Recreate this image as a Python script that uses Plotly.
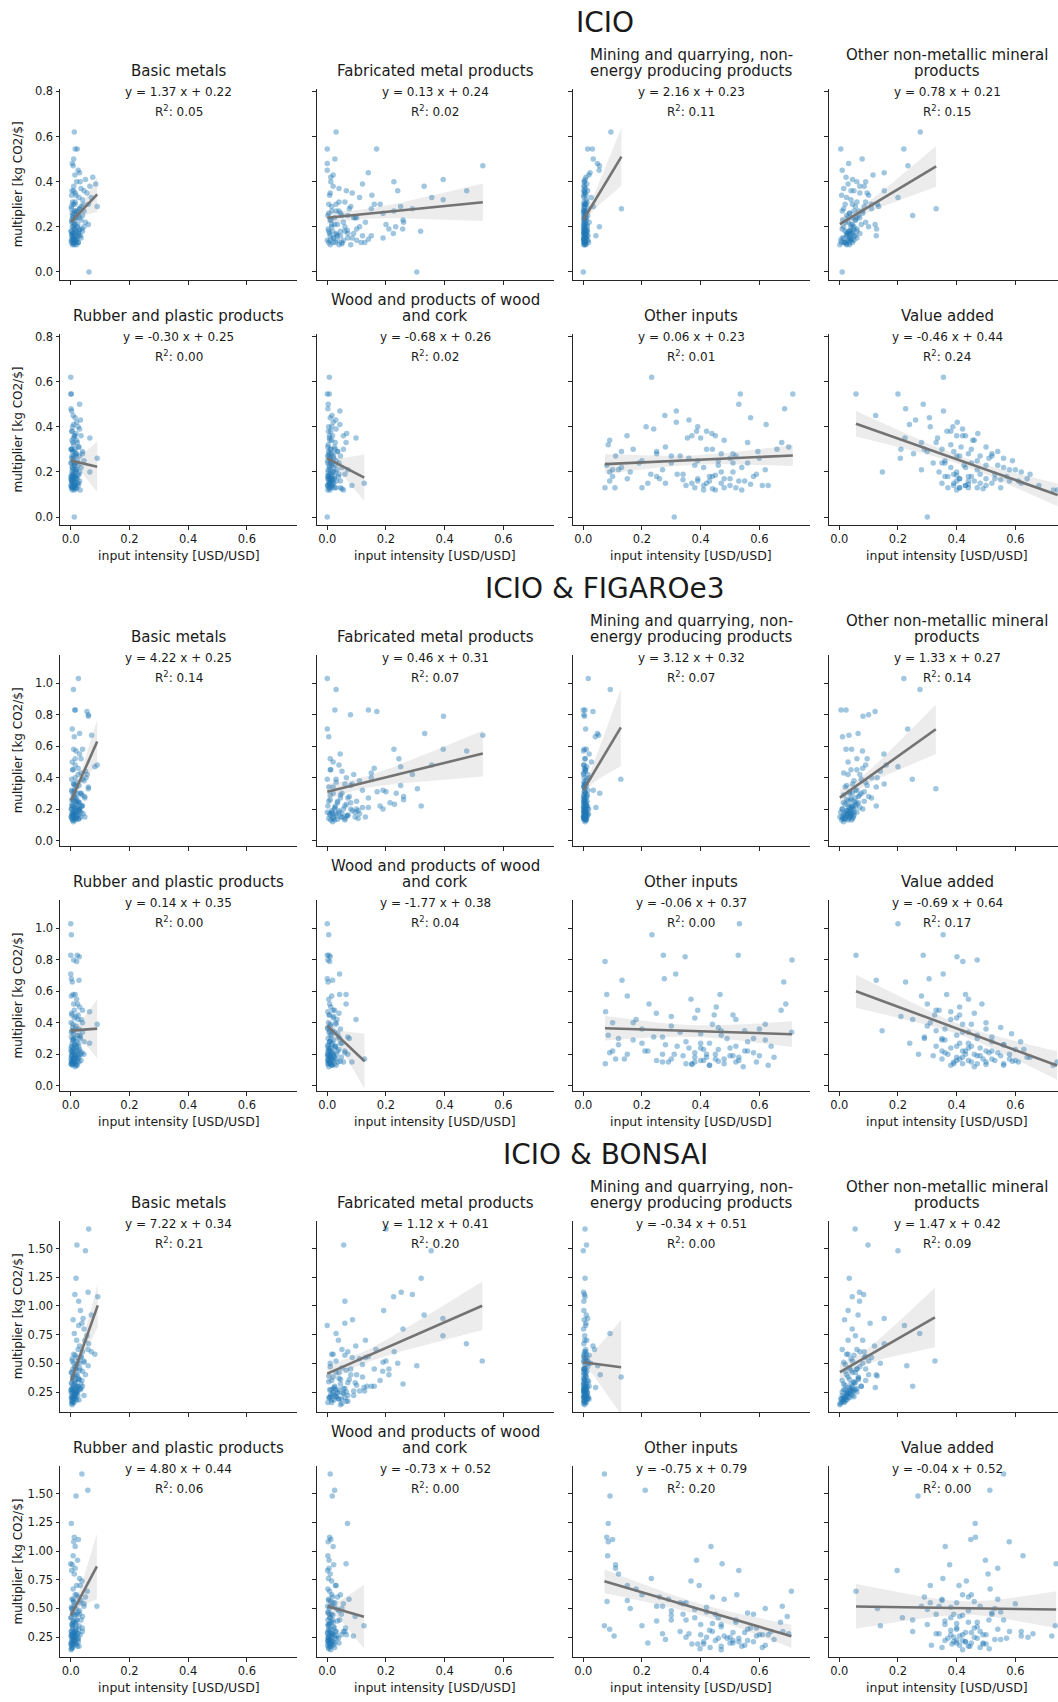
import numpy as np
import plotly.graph_objects as go

# ------------------------------------------------------------------ data
section_titles = ["ICIO", "ICIO & FIGAROe3", "ICIO & BONSAI"]
panel_titles = [
    ["Basic metals"],
    ["Fabricated metal products"],
    ["Mining and quarrying, non-", "energy producing products"],
    ["Other non-metallic mineral", "products"],
    ["Rubber and plastic products"],
    ["Wood and products of wood", "and cork"],
    ["Other inputs"],
    ["Value added"],
]
x_label = "input intensity [USD/USD]"
y_label = "multiplier [kg CO2/$]"
x_tick_values = [0.0, 0.2, 0.4, 0.6]
x_tick_labels = ["0.0", "0.2", "0.4", "0.6"]

icio_y_ticks = [0.0, 0.2, 0.4, 0.6, 0.8]
icio_y_tick_labels = ["0.0", "0.2", "0.4", "0.6", "0.8"]
figaro_y_ticks = [0.0, 0.2, 0.4, 0.6, 0.8, 1.0]
figaro_y_tick_labels = ["0.0", "0.2", "0.4", "0.6", "0.8", "1.0"]
bonsai_y_ticks = [0.25, 0.50, 0.75, 1.00, 1.25, 1.50]
bonsai_y_tick_labels = ["0.25", "0.50", "0.75", "1.00", "1.25", "1.50"]

# regression results (slope, intercept, R^2) per panel
icio_slope = [1.37, 0.13, 2.16, 0.78, -0.30, -0.68, 0.06, -0.46]
icio_intercept = [0.22, 0.24, 0.23, 0.21, 0.25, 0.26, 0.23, 0.44]
icio_r2 = [0.05, 0.02, 0.11, 0.15, 0.00, 0.02, 0.01, 0.24]
figaro_slope = [4.22, 0.46, 3.12, 1.33, 0.14, -1.77, -0.06, -0.69]
figaro_intercept = [0.25, 0.31, 0.32, 0.27, 0.35, 0.38, 0.37, 0.64]
figaro_r2 = [0.14, 0.07, 0.07, 0.14, 0.00, 0.04, 0.00, 0.17]
bonsai_slope = [7.22, 1.12, -0.34, 1.47, 4.80, -0.73, -0.75, -0.04]
bonsai_intercept = [0.34, 0.41, 0.51, 0.42, 0.44, 0.52, 0.79, 0.52]
bonsai_r2 = [0.21, 0.20, 0.00, 0.09, 0.06, 0.00, 0.20, 0.00]

# ---- ICIO
icio_multiplier = [
    0.62, 0.545, 0.545, 0.50, 0.48, 0.47, 0.45, 0.44, 0.42, 0.41,
    0.40, 0.39, 0.38, 0.37, 0.36, 0.36, 0.35, 0.34, 0.33, 0.32,
    0.31, 0.30, 0.30, 0.29, 0.29, 0.28, 0.27, 0.27, 0.26, 0.26,
    0.25, 0.25, 0.24, 0.24, 0.23, 0.23, 0.22, 0.22, 0.21, 0.21,
    0.20, 0.20, 0.19, 0.19, 0.18, 0.18, 0.18, 0.17, 0.17, 0.17,
    0.16, 0.16, 0.16, 0.15, 0.15, 0.15, 0.14, 0.14, 0.14, 0.13,
    0.13, 0.13, 0.13, 0.12, 0.12, 0.12, 0.20, 0.28, 0.35, 0.00,
    0.38, 0.36, 0.34, 0.33, 0.31, 0.30, 0.29, 0.28, 0.27, 0.26,
    0.25, 0.24, 0.23, 0.22, 0.21, 0.20, 0.19, 0.19, 0.18, 0.18,
    0.17, 0.17, 0.16, 0.16, 0.15, 0.15, 0.14, 0.14, 0.13, 0.13,
    0.30, 0.27, 0.24, 0.21, 0.185, 0.165, 0.145, 0.125, 0.40, 0.43]
icio_basic_metals = [
    0.012, 0.015, 0.022, 0.010, 0.005, 0.008, 0.025, 0.030, 0.075, 0.050,
    0.020, 0.085, 0.065, 0.035, 0.010, 0.045, 0.055, 0.003, 0.070, 0.040,
    0.015, 0.008, 0.060, 0.002, 0.090, 0.030, 0.012, 0.045, 0.005, 0.020,
    0.025, 0.040, 0.010, 0.018, 0.003, 0.035, 0.050, 0.008, 0.060, 0.015,
    0.022, 0.005, 0.012, 0.030, 0.002, 0.018, 0.040, 0.008, 0.025, 0.010,
    0.015, 0.003, 0.028, 0.006, 0.012, 0.035, 0.004, 0.020, 0.009, 0.016,
    0.002, 0.010, 0.025, 0.006, 0.013, 0.020, 0.045, 0.030, 0.015, 0.062,
    0.010, 0.004, 0.018, 0.028, 0.006, 0.014, 0.035, 0.002, 0.022, 0.011,
    0.007, 0.030, 0.016, 0.003, 0.024, 0.009, 0.013, 0.038, 0.001, 0.019,
    0.027, 0.005, 0.012, 0.033, 0.008, 0.021, 0.002, 0.015, 0.010, 0.026,
    0.042, 0.018, 0.006, 0.012, 0.029, 0.004, 0.017, 0.008, 0.032, 0.014]
icio_fabricated_metal = [
    0.030, 0.000, 0.168, 0.026, 0.000, 0.530, 0.000, 0.140, 0.012, 0.395,
    0.227, 0.120, 0.330, 0.040, 0.240, 0.475, 0.010, 0.152, 0.356, 0.395,
    0.060, 0.005, 0.030, 0.250, 0.080, 0.290, 0.015, 0.227, 0.190, 0.045,
    0.002, 0.070, 0.025, 0.100, 0.258, 0.010, 0.260, 0.055, 0.200, 0.035,
    0.233, 0.015, 0.210, 0.257, 0.005, 0.318, 0.060, 0.225, 0.030, 0.090,
    0.010, 0.045, 0.120, 0.190, 0.020, 0.070, 0.000, 0.035, 0.100, 0.128,
    0.005, 0.050, 0.020, 0.080, 0.010, 0.040, 0.110, 0.150, 0.085, 0.305,
    0.020, 0.065, 0.008, 0.110, 0.040, 0.160, 0.015, 0.075, 0.030, 0.005,
    0.050, 0.090, 0.012, 0.130, 0.025, 0.060, 0.003, 0.100, 0.045, 0.018,
    0.070, 0.008, 0.035, 0.150, 0.022, 0.085, 0.010, 0.055, 0.028, 0.115,
    0.180, 0.040, 0.095, 0.015, 0.068, 0.032, 0.140, 0.050, 0.012, 0.020]
icio_mining = [
    0.094, 0.015, 0.031, 0.034, 0.048, 0.055, 0.054, 0.023, 0.009, 0.006,
    0.003, 0.012, 0.002, 0.008, 0.004, 0.015, 0.006, 0.001, 0.027, 0.010,
    0.003, 0.007, 0.002, 0.034, 0.005, 0.130, 0.004, 0.012, 0.001, 0.008,
    0.003, 0.015, 0.006, 0.001, 0.010, 0.004, 0.020, 0.002, 0.007, 0.012,
    0.001, 0.005, 0.009, 0.003, 0.014, 0.002, 0.006, 0.011, 0.004, 0.001,
    0.043, 0.003, 0.016, 0.002, 0.006, 0.010, 0.004, 0.001, 0.012, 0.005,
    0.003, 0.018, 0.007, 0.002, 0.009, 0.004, 0.055, 0.002, 0.005, 0.000,
    0.004, 0.001, 0.009, 0.002, 0.013, 0.006, 0.003, 0.017, 0.001, 0.008,
    0.005, 0.011, 0.002, 0.007, 0.004, 0.014, 0.001, 0.006, 0.010, 0.003,
    0.008, 0.002, 0.012, 0.005, 0.001, 0.009, 0.004, 0.016, 0.002, 0.007,
    0.011, 0.003, 0.006, 0.001, 0.013, 0.005, 0.002, 0.008, 0.004, 0.019]
icio_non_metallic = [
    0.276, 0.005, 0.220, 0.078, 0.032, 0.234, 0.010, 0.153, 0.023, 0.045,
    0.060, 0.030, 0.085, 0.015, 0.153, 0.050, 0.070, 0.008, 0.200, 0.040,
    0.090, 0.020, 0.130, 0.134, 0.055, 0.330, 0.010, 0.065, 0.035, 0.080,
    0.250, 0.025, 0.045, 0.070, 0.012, 0.055, 0.030, 0.090, 0.122, 0.040,
    0.050, 0.015, 0.127, 0.060, 0.035, 0.045, 0.020, 0.070, 0.040, 0.030,
    0.126, 0.050, 0.025, 0.035, 0.010, 0.060, 0.040, 0.005, 0.030, 0.020,
    0.008, 0.045, 0.015, 0.035, 0.002, 0.025, 0.100, 0.110, 0.095, 0.010,
    0.070, 0.040, 0.100, 0.025, 0.060, 0.045, 0.085, 0.015, 0.050, 0.035,
    0.065, 0.030, 0.055, 0.020, 0.075, 0.040, 0.010, 0.050, 0.030, 0.060,
    0.045, 0.025, 0.035, 0.055, 0.015, 0.040, 0.030, 0.050, 0.020, 0.035,
    0.110, 0.080, 0.060, 0.045, 0.038, 0.028, 0.042, 0.025, 0.090, 0.115]
icio_rubber_plastic = [
    0.000, 0.000, 0.002, 0.030, 0.001, 0.003, 0.008, 0.015, 0.020, 0.010,
    0.025, 0.030, 0.005, 0.018, 0.012, 0.035, 0.065, 0.004, 0.022, 0.010,
    0.028, 0.002, 0.015, 0.040, 0.006, 0.020, 0.011, 0.030, 0.090, 0.003,
    0.045, 0.008, 0.018, 0.001, 0.025, 0.012, 0.035, 0.005, 0.015, 0.020,
    0.065, 0.004, 0.010, 0.028, 0.002, 0.016, 0.007, 0.020, 0.013, 0.001,
    0.009, 0.030, 0.003, 0.014, 0.006, 0.022, 0.001, 0.011, 0.025, 0.004,
    0.008, 0.018, 0.002, 0.012, 0.005, 0.032, 0.015, 0.040, 0.010, 0.012,
    0.003, 0.014, 0.020, 0.007, 0.026, 0.001, 0.011, 0.017, 0.004, 0.009,
    0.023, 0.002, 0.013, 0.006, 0.019, 0.030, 0.005, 0.010, 0.001, 0.015,
    0.008, 0.021, 0.003, 0.012, 0.027, 0.006, 0.016, 0.002, 0.009, 0.014,
    0.004, 0.018, 0.011, 0.007, 0.024, 0.002, 0.013, 0.020, 0.006, 0.033]
icio_wood = [
    0.007, 0.000, 0.007, 0.003, 0.002, 0.043, 0.016, 0.010, 0.020, 0.043,
    0.005, 0.030, 0.012, 0.066, 0.055, 0.008, 0.098, 0.015, 0.064, 0.003,
    0.025, 0.055, 0.010, 0.004, 0.035, 0.018, 0.001, 0.045, 0.008, 0.022,
    0.012, 0.030, 0.002, 0.040, 0.015, 0.006, 0.050, 0.020, 0.070, 0.010,
    0.003, 0.028, 0.060, 0.009, 0.014, 0.038, 0.002, 0.024, 0.006, 0.017,
    0.011, 0.045, 0.004, 0.019, 0.126, 0.008, 0.001, 0.084, 0.013, 0.025,
    0.005, 0.016, 0.030, 0.002, 0.009, 0.055, 0.020, 0.012, 0.007, 0.000,
    0.004, 0.018, 0.009, 0.027, 0.002, 0.013, 0.035, 0.006, 0.021, 0.011,
    0.001, 0.016, 0.028, 0.008, 0.003, 0.019, 0.012, 0.040, 0.005, 0.024,
    0.010, 0.002, 0.031, 0.014, 0.007, 0.022, 0.001, 0.017, 0.009, 0.045,
    0.026, 0.005, 0.012, 0.033, 0.003, 0.018, 0.008, 0.050, 0.015, 0.029]
icio_other_inputs = [
    0.233, 0.535, 0.714, 0.530, 0.686, 0.317, 0.278, 0.570, 0.317, 0.623,
    0.214, 0.240, 0.386, 0.438, 0.149, 0.450, 0.355, 0.480, 0.676, 0.085,
    0.700, 0.170, 0.420, 0.250, 0.595, 0.470, 0.520, 0.110, 0.360, 0.500,
    0.200, 0.390, 0.560, 0.300, 0.080, 0.460, 0.130, 0.410, 0.270, 0.620,
    0.090, 0.510, 0.340, 0.230, 0.440, 0.580, 0.100, 0.390, 0.480, 0.260,
    0.430, 0.530, 0.090, 0.370, 0.470, 0.220, 0.410, 0.500, 0.630, 0.380,
    0.074, 0.108, 0.520, 0.410, 0.450, 0.540, 0.160, 0.250, 0.400, 0.310,
    0.420, 0.370, 0.090, 0.560, 0.280, 0.440, 0.130, 0.510, 0.330, 0.600,
    0.460, 0.190, 0.380, 0.540, 0.100, 0.470, 0.320, 0.590, 0.430, 0.250,
    0.500, 0.150, 0.390, 0.550, 0.280, 0.420, 0.610, 0.350, 0.480, 0.200,
    0.660, 0.300, 0.510, 0.120, 0.450, 0.340, 0.570, 0.440, 0.390, 0.360]
icio_value_added = [
    0.355, 0.057, 0.200, 0.286, 0.226, 0.355, 0.124, 0.307, 0.402, 0.239,
    0.387, 0.420, 0.367, 0.472, 0.400, 0.430, 0.335, 0.455, 0.280, 0.380,
    0.415, 0.210, 0.350, 0.540, 0.300, 0.440, 0.480, 0.400, 0.208, 0.510,
    0.360, 0.590, 0.450, 0.320, 0.425, 0.500, 0.380, 0.560, 0.470, 0.280,
    0.340, 0.620, 0.390, 0.530, 0.450, 0.360, 0.570, 0.410, 0.640, 0.500,
    0.400, 0.440, 0.610, 0.350, 0.480, 0.520, 0.390, 0.680, 0.430, 0.370,
    0.410, 0.440, 0.550, 0.744, 0.730, 0.400, 0.147, 0.253, 0.224, 0.300,
    0.380, 0.420, 0.460, 0.330, 0.500, 0.450, 0.390, 0.520, 0.410, 0.560,
    0.470, 0.350, 0.540, 0.430, 0.600, 0.400, 0.480, 0.650, 0.370, 0.440,
    0.530, 0.410, 0.580, 0.460, 0.390, 0.620, 0.430, 0.500, 0.470, 0.410,
    0.290, 0.520, 0.360, 0.580, 0.400, 0.550, 0.440, 0.490, 0.310, 0.260]

# ---- ICIO & FIGAROe3
figaro_multiplier = [
    1.03, 0.96, 0.83, 0.83, 0.82, 0.80, 0.79, 0.71, 0.68, 0.67,
    0.66, 0.58, 0.58, 0.57, 0.55, 0.52, 0.50, 0.48, 0.47, 0.46,
    0.45, 0.43, 0.42, 0.40, 0.39, 0.38, 0.37, 0.36, 0.35, 0.34,
    0.33, 0.32, 0.31, 0.30, 0.30, 0.29, 0.28, 0.27, 0.26, 0.25,
    0.25, 0.24, 0.23, 0.22, 0.22, 0.21, 0.21, 0.20, 0.20, 0.19,
    0.19, 0.18, 0.18, 0.17, 0.17, 0.16, 0.16, 0.15, 0.15, 0.15,
    0.14, 0.14, 0.13, 0.13, 0.12, 0.20, 0.27, 0.35, 0.44, 0.22,
    0.48, 0.45, 0.42, 0.39, 0.36, 0.34, 0.32, 0.30, 0.28, 0.27,
    0.26, 0.25, 0.24, 0.23, 0.22, 0.21, 0.20, 0.20, 0.19, 0.18,
    0.18, 0.17, 0.17, 0.16, 0.16, 0.15, 0.15, 0.14, 0.14, 0.13,
    0.31, 0.29, 0.24, 0.22, 0.19, 0.17, 0.155, 0.135, 0.40, 0.52]
figaro_basic_metals = [
    0.026, 0.009, 0.013, 0.016, 0.055, 0.060, 0.060, 0.005, 0.030, 0.071,
    0.012, 0.010, 0.040, 0.018, 0.030, 0.015, 0.005, 0.090, 0.082, 0.025,
    0.008, 0.035, 0.056, 0.015, 0.003, 0.045, 0.020, 0.010, 0.028, 0.060,
    0.060, 0.012, 0.004, 0.022, 0.035, 0.008, 0.047, 0.015, 0.003, 0.025,
    0.010, 0.030, 0.018, 0.005, 0.040, 0.012, 0.022, 0.002, 0.028, 0.015,
    0.008, 0.020, 0.035, 0.004, 0.013, 0.025, 0.006, 0.048, 0.010, 0.018,
    0.003, 0.012, 0.007, 0.016, 0.009, 0.030, 0.020, 0.014, 0.050, 0.038,
    0.015, 0.006, 0.025, 0.040, 0.010, 0.020, 0.003, 0.032, 0.012, 0.048,
    0.008, 0.018, 0.027, 0.004, 0.036, 0.014, 0.022, 0.002, 0.030, 0.009,
    0.016, 0.042, 0.005, 0.024, 0.011, 0.033, 0.001, 0.019, 0.028, 0.007,
    0.013, 0.038, 0.021, 0.006, 0.029, 0.017, 0.003, 0.026, 0.052, 0.035]
figaro_fabricated_metal = [
    0.000, 0.030, 0.026, 0.140, 0.169, 0.079, 0.396, 0.000, 0.332, 0.530,
    0.005, 0.227, 0.395, 0.475, 0.044, 0.244, 0.020, 0.356, 0.250, 0.160,
    0.010, 0.150, 0.290, 0.065, 0.000, 0.110, 0.030, 0.085, 0.250, 0.020,
    0.307, 0.190, 0.200, 0.235, 0.050, 0.010, 0.260, 0.070, 0.260, 0.035,
    0.005, 0.214, 0.229, 0.320, 0.060, 0.025, 0.120, 0.190, 0.080, 0.040,
    0.015, 0.095, 0.000, 0.050, 0.030, 0.010, 0.070, 0.130, 0.045, 0.020,
    0.105, 0.005, 0.060, 0.025, 0.018, 0.100, 0.140, 0.080, 0.050, 0.180,
    0.040, 0.012, 0.090, 0.030, 0.060, 0.005, 0.120, 0.020, 0.075, 0.045,
    0.010, 0.100, 0.035, 0.065, 0.002, 0.140, 0.025, 0.055, 0.085, 0.015,
    0.040, 0.110, 0.008, 0.070, 0.030, 0.050, 0.095, 0.020, 0.060, 0.012,
    0.170, 0.045, 0.080, 0.028, 0.105, 0.018, 0.065, 0.035, 0.150, 0.010]
figaro_mining = [
    0.017, 0.092, 0.000, 0.006, 0.033, 0.002, 0.004, 0.008, 0.048, 0.052,
    0.041, 0.003, 0.010, 0.001, 0.020, 0.006, 0.028, 0.002, 0.012, 0.004,
    0.007, 0.001, 0.015, 0.003, 0.128, 0.009, 0.002, 0.005, 0.011, 0.001,
    0.006, 0.034, 0.003, 0.056, 0.008, 0.002, 0.012, 0.004, 0.001, 0.007,
    0.003, 0.010, 0.005, 0.001, 0.014, 0.002, 0.043, 0.006, 0.009, 0.003,
    0.001, 0.008, 0.004, 0.012, 0.002, 0.006, 0.015, 0.003, 0.010, 0.001,
    0.005, 0.002, 0.009, 0.003, 0.006, 0.018, 0.004, 0.002, 0.007, 0.011,
    0.002, 0.008, 0.001, 0.012, 0.005, 0.003, 0.016, 0.007, 0.001, 0.010,
    0.004, 0.013, 0.002, 0.006, 0.009, 0.001, 0.015, 0.003, 0.007, 0.011,
    0.002, 0.005, 0.018, 0.004, 0.008, 0.001, 0.012, 0.006, 0.003, 0.009,
    0.005, 0.014, 0.002, 0.010, 0.004, 0.007, 0.001, 0.011, 0.020, 0.006]
figaro_non_metallic = [
    0.220, 0.275, 0.006, 0.023, 0.122, 0.100, 0.081, 0.233, 0.064, 0.033,
    0.011, 0.023, 0.042, 0.079, 0.152, 0.060, 0.030, 0.160, 0.200, 0.080,
    0.040, 0.015, 0.070, 0.129, 0.249, 0.050, 0.090, 0.153, 0.025, 0.126,
    0.329, 0.060, 0.035, 0.075, 0.045, 0.015, 0.100, 0.055, 0.040, 0.085,
    0.030, 0.065, 0.020, 0.045, 0.126, 0.035, 0.070, 0.010, 0.050, 0.040,
    0.025, 0.060, 0.005, 0.040, 0.030, 0.018, 0.050, 0.010, 0.035, 0.002,
    0.045, 0.020, 0.008, 0.030, 0.015, 0.080, 0.110, 0.095, 0.140, 0.055,
    0.090, 0.060, 0.030, 0.075, 0.045, 0.020, 0.055, 0.035, 0.065, 0.040,
    0.025, 0.050, 0.015, 0.060, 0.030, 0.045, 0.010, 0.040, 0.025, 0.050,
    0.035, 0.015, 0.045, 0.028, 0.038, 0.020, 0.048, 0.032, 0.012, 0.042,
    0.085, 0.070, 0.055, 0.040, 0.030, 0.022, 0.036, 0.018, 0.110, 0.095]
figaro_rubber_plastic = [
    0.000, 0.002, 0.000, 0.022, 0.029, 0.010, 0.020, 0.000, 0.002, 0.028,
    0.005, 0.008, 0.015, 0.002, 0.020, 0.010, 0.030, 0.040, 0.064, 0.003,
    0.025, 0.012, 0.035, 0.001, 0.090, 0.018, 0.006, 0.028, 0.004, 0.040,
    0.010, 0.022, 0.002, 0.015, 0.032, 0.007, 0.045, 0.064, 0.012, 0.003,
    0.020, 0.008, 0.030, 0.001, 0.016, 0.038, 0.005, 0.024, 0.011, 0.002,
    0.014, 0.028, 0.006, 0.018, 0.001, 0.010, 0.035, 0.004, 0.022, 0.008,
    0.012, 0.002, 0.020, 0.006, 0.015, 0.045, 0.025, 0.009, 0.018, 0.030,
    0.012, 0.004, 0.025, 0.008, 0.017, 0.002, 0.030, 0.010, 0.020, 0.005,
    0.014, 0.027, 0.001, 0.009, 0.022, 0.006, 0.016, 0.035, 0.003, 0.012,
    0.019, 0.007, 0.024, 0.002, 0.011, 0.028, 0.005, 0.015, 0.001, 0.021,
    0.033, 0.008, 0.018, 0.004, 0.026, 0.010, 0.013, 0.003, 0.040, 0.023]
figaro_wood = [
    0.000, 0.005, 0.000, 0.006, 0.010, 0.002, 0.008, 0.042, 0.000, 0.018,
    0.003, 0.042, 0.064, 0.015, 0.005, 0.064, 0.012, 0.025, 0.002, 0.040,
    0.008, 0.020, 0.098, 0.004, 0.030, 0.012, 0.001, 0.045, 0.018, 0.006,
    0.035, 0.010, 0.070, 0.003, 0.075, 0.022, 0.008, 0.050, 0.015, 0.001,
    0.028, 0.006, 0.040, 0.012, 0.002, 0.060, 0.018, 0.004, 0.032, 0.010,
    0.001, 0.025, 0.008, 0.127, 0.014, 0.003, 0.020, 0.084, 0.006, 0.036,
    0.010, 0.002, 0.030, 0.015, 0.005, 0.070, 0.045, 0.009, 0.022, 0.060,
    0.020, 0.006, 0.033, 0.011, 0.002, 0.025, 0.015, 0.042, 0.008, 0.018,
    0.003, 0.028, 0.012, 0.005, 0.036, 0.016, 0.001, 0.022, 0.010, 0.048,
    0.006, 0.019, 0.030, 0.002, 0.014, 0.055, 0.009, 0.024, 0.004, 0.017,
    0.038, 0.012, 0.026, 0.007, 0.021, 0.003, 0.044, 0.015, 0.029, 0.008]
figaro_other_inputs = [
    0.532, 0.234, 0.273, 0.528, 0.347, 0.711, 0.074, 0.315, 0.276, 0.132,
    0.683, 0.080, 0.466, 0.150, 0.367, 0.224, 0.453, 0.674, 0.076, 0.249,
    0.446, 0.380, 0.520, 0.100, 0.620, 0.300, 0.460, 0.200, 0.550, 0.710,
    0.400, 0.085, 0.270, 0.490, 0.580, 0.170, 0.350, 0.430, 0.120, 0.640,
    0.320, 0.500, 0.410, 0.220, 0.560, 0.380, 0.090, 0.450, 0.270, 0.600,
    0.340, 0.420, 0.530, 0.110, 0.480, 0.400, 0.250, 0.380, 0.520, 0.290,
    0.075, 0.370, 0.430, 0.630, 0.545, 0.150, 0.200, 0.470, 0.300, 0.550,
    0.390, 0.510, 0.180, 0.440, 0.600, 0.330, 0.470, 0.120, 0.560, 0.400,
    0.280, 0.520, 0.360, 0.460, 0.210, 0.580, 0.420, 0.310, 0.500, 0.650,
    0.380, 0.450, 0.140, 0.530, 0.410, 0.270, 0.590, 0.350, 0.480, 0.430,
    0.240, 0.620, 0.400, 0.100, 0.510, 0.300, 0.460, 0.370, 0.170, 0.690]
figaro_value_added = [
    0.200, 0.354, 0.057, 0.286, 0.401, 0.470, 0.421, 0.354, 0.306, 0.126,
    0.226, 0.366, 0.430, 0.280, 0.440, 0.486, 0.410, 0.340, 0.380, 0.460,
    0.325, 0.400, 0.250, 0.500, 0.420, 0.300, 0.550, 0.360, 0.146, 0.440,
    0.587, 0.400, 0.520, 0.290, 0.470, 0.350, 0.618, 0.410, 0.560, 0.330,
    0.450, 0.380, 0.629, 0.500, 0.420, 0.360, 0.540, 0.580, 0.430, 0.320,
    0.470, 0.400, 0.650, 0.350, 0.520, 0.440, 0.600, 0.390, 0.500, 0.742,
    0.420, 0.560, 0.729, 0.380, 0.460, 0.270, 0.240, 0.330, 0.210, 0.350,
    0.330, 0.410, 0.380, 0.450, 0.500, 0.420, 0.470, 0.350, 0.520, 0.440,
    0.560, 0.400, 0.480, 0.600, 0.430, 0.510, 0.370, 0.460, 0.550, 0.640,
    0.420, 0.490, 0.580, 0.400, 0.530, 0.450, 0.610, 0.390, 0.470, 0.560,
    0.290, 0.360, 0.440, 0.520, 0.480, 0.410, 0.590, 0.500, 0.310, 0.300]

# ---- ICIO & BONSAI
bonsai_multiplier = [
    1.67, 1.53, 1.48, 1.24, 1.12, 1.10, 1.08, 1.04, 0.96, 0.92,
    0.89, 0.88, 0.83, 0.80, 0.76, 0.74, 0.70, 0.67, 0.65, 0.62,
    0.60, 0.58, 0.57, 0.56, 0.54, 0.52, 0.51, 0.50, 0.48, 0.46,
    0.45, 0.43, 0.42, 0.40, 0.39, 0.38, 0.36, 0.35, 0.33, 0.32,
    0.31, 0.30, 0.29, 0.28, 0.27, 0.27, 0.26, 0.25, 0.25, 0.24,
    0.23, 0.22, 0.21, 0.20, 0.20, 0.19, 0.18, 0.17, 0.16, 0.15,
    0.14, 0.30, 0.35, 0.40, 0.45, 0.50, 0.55, 0.60, 0.28, 0.22,
    0.62, 0.58, 0.55, 0.52, 0.49, 0.47, 0.44, 0.42, 0.40, 0.38,
    0.36, 0.34, 0.32, 0.30, 0.29, 0.28, 0.27, 0.26, 0.25, 0.24,
    0.23, 0.22, 0.21, 0.20, 0.19, 0.18, 0.17, 0.16, 0.30, 0.26,
    0.52, 0.45, 0.37, 0.33, 0.27, 0.24, 0.21, 0.19, 0.70, 0.85]
bonsai_basic_metals = [
    0.061, 0.021, 0.050, 0.018, 0.059, 0.014, 0.092, 0.027, 0.033, 0.070,
    0.042, 0.008, 0.027, 0.045, 0.012, 0.055, 0.020, 0.061, 0.030, 0.059,
    0.070, 0.082, 0.015, 0.035, 0.005, 0.025, 0.045, 0.010, 0.059, 0.030,
    0.018, 0.040, 0.003, 0.022, 0.012, 0.006, 0.028, 0.015, 0.002, 0.035,
    0.010, 0.020, 0.005, 0.030, 0.014, 0.001, 0.024, 0.008, 0.018, 0.004,
    0.012, 0.045, 0.006, 0.015, 0.002, 0.010, 0.020, 0.004, 0.008, 0.003,
    0.005, 0.025, 0.038, 0.050, 0.015, 0.030, 0.022, 0.040, 0.035, 0.016,
    0.025, 0.010, 0.035, 0.005, 0.020, 0.014, 0.030, 0.002, 0.018, 0.008,
    0.027, 0.012, 0.004, 0.022, 0.016, 0.006, 0.032, 0.010, 0.001, 0.019,
    0.013, 0.024, 0.003, 0.009, 0.017, 0.028, 0.005, 0.011, 0.040, 0.021,
    0.045, 0.007, 0.026, 0.015, 0.002, 0.020, 0.012, 0.004, 0.048, 0.038]
bonsai_fabricated_metal = [
    0.200, 0.056, 0.354, 0.320, 0.252, 0.290, 0.226, 0.060, 0.192, 0.330,
    0.394, 0.086, 0.000, 0.258, 0.030, 0.394, 0.038, 0.474, 0.097, 0.166,
    0.228, 0.020, 0.060, 0.140, 0.110, 0.528, 0.190, 0.010, 0.305, 0.050,
    0.210, 0.189, 0.030, 0.080, 0.005, 0.120, 0.045, 0.015, 0.070, 0.258,
    0.100, 0.025, 0.125, 0.055, 0.008, 0.040, 0.127, 0.020, 0.065, 0.035,
    0.012, 0.090, 0.030, 0.060, 0.005, 0.040, 0.015, 0.070, 0.002, 0.050,
    0.045, 0.150, 0.180, 0.210, 0.160, 0.240, 0.130, 0.070, 0.020, 0.025,
    0.050, 0.015, 0.085, 0.030, 0.120, 0.010, 0.065, 0.040, 0.100, 0.020,
    0.075, 0.005, 0.045, 0.135, 0.025, 0.060, 0.012, 0.090, 0.035, 0.055,
    0.018, 0.070, 0.030, 0.008, 0.048, 0.022, 0.065, 0.015, 0.160, 0.110,
    0.200, 0.080, 0.040, 0.095, 0.028, 0.052, 0.010, 0.038, 0.130, 0.060]
bonsai_mining = [
    0.006, 0.011, 0.000, 0.006, 0.001, 0.004, 0.006, 0.002, 0.002, 0.010,
    0.015, 0.003, 0.008, 0.001, 0.091, 0.005, 0.012, 0.002, 0.033, 0.038,
    0.004, 0.010, 0.020, 0.001, 0.007, 0.015, 0.003, 0.025, 0.049, 0.006,
    0.002, 0.012, 0.001, 0.058, 0.008, 0.129, 0.004, 0.015, 0.002, 0.009,
    0.001, 0.006, 0.042, 0.003, 0.011, 0.002, 0.007, 0.014, 0.001, 0.005,
    0.009, 0.003, 0.016, 0.001, 0.006, 0.020, 0.004, 0.002, 0.010, 0.001,
    0.005, 0.012, 0.003, 0.007, 0.001, 0.018, 0.004, 0.009, 0.002, 0.011,
    0.008, 0.003, 0.012, 0.001, 0.006, 0.015, 0.004, 0.009, 0.002, 0.011,
    0.005, 0.018, 0.001, 0.007, 0.013, 0.003, 0.010, 0.006, 0.002, 0.014,
    0.004, 0.009, 0.001, 0.016, 0.005, 0.011, 0.003, 0.007, 0.020, 0.002,
    0.012, 0.006, 0.001, 0.010, 0.004, 0.008, 0.003, 0.015, 0.005, 0.009]
bonsai_non_metallic = [
    0.054, 0.098, 0.200, 0.034, 0.069, 0.083, 0.044, 0.069, 0.030, 0.064,
    0.153, 0.018, 0.222, 0.044, 0.274, 0.055, 0.030, 0.153, 0.120, 0.010,
    0.070, 0.025, 0.050, 0.090, 0.040, 0.326, 0.015, 0.080, 0.230, 0.035,
    0.060, 0.020, 0.045, 0.126, 0.129, 0.030, 0.065, 0.010, 0.050, 0.040,
    0.020, 0.250, 0.123, 0.035, 0.055, 0.015, 0.045, 0.025, 0.060, 0.030,
    0.040, 0.010, 0.050, 0.020, 0.035, 0.005, 0.025, 0.015, 0.008, 0.003,
    0.002, 0.075, 0.090, 0.100, 0.060, 0.140, 0.110, 0.085, 0.045, 0.028,
    0.060, 0.030, 0.085, 0.045, 0.020, 0.070, 0.040, 0.055, 0.025, 0.065,
    0.035, 0.050, 0.015, 0.045, 0.030, 0.060, 0.020, 0.040, 0.010, 0.035,
    0.025, 0.045, 0.015, 0.030, 0.008, 0.022, 0.012, 0.018, 0.075, 0.050,
    0.100, 0.090, 0.065, 0.055, 0.038, 0.028, 0.020, 0.014, 0.080, 0.105]
bonsai_rubber_plastic = [
    0.038, 0.058, 0.018, 0.002, 0.012, 0.026, 0.010, 0.015, 0.008, 0.023,
    0.000, 0.005, 0.003, 0.012, 0.030, 0.038, 0.020, 0.008, 0.056, 0.015,
    0.025, 0.004, 0.035, 0.010, 0.045, 0.089, 0.002, 0.018, 0.030, 0.006,
    0.012, 0.040, 0.001, 0.022, 0.008, 0.015, 0.003, 0.028, 0.039, 0.006,
    0.018, 0.002, 0.010, 0.025, 0.005, 0.032, 0.001, 0.014, 0.008, 0.020,
    0.004, 0.012, 0.026, 0.002, 0.009, 0.017, 0.001, 0.022, 0.006, 0.003,
    0.001, 0.015, 0.007, 0.019, 0.030, 0.004, 0.011, 0.050, 0.013, 0.009,
    0.020, 0.008, 0.030, 0.012, 0.004, 0.025, 0.015, 0.001, 0.035, 0.010,
    0.018, 0.006, 0.027, 0.002, 0.013, 0.022, 0.007, 0.016, 0.003, 0.011,
    0.024, 0.005, 0.014, 0.001, 0.019, 0.009, 0.028, 0.004, 0.040, 0.012,
    0.045, 0.021, 0.006, 0.017, 0.002, 0.026, 0.010, 0.003, 0.032, 0.015]
bonsai_wood = [
    0.010, 0.025, 0.017, 0.069, 0.008, 0.012, 0.003, 0.020, 0.002, 0.006,
    0.064, 0.022, 0.001, 0.010, 0.004, 0.015, 0.030, 0.002, 0.008, 0.045,
    0.018, 0.074, 0.005, 0.012, 0.055, 0.001, 0.025, 0.007, 0.040, 0.003,
    0.015, 0.095, 0.010, 0.002, 0.035, 0.020, 0.006, 0.125, 0.062, 0.012,
    0.004, 0.028, 0.001, 0.018, 0.048, 0.008, 0.089, 0.003, 0.015, 0.030,
    0.010, 0.002, 0.022, 0.006, 0.040, 0.014, 0.001, 0.009, 0.025, 0.005,
    0.012, 0.060, 0.003, 0.018, 0.008, 0.050, 0.020, 0.035, 0.016, 0.004,
    0.015, 0.004, 0.026, 0.010, 0.035, 0.002, 0.019, 0.008, 0.042, 0.013,
    0.003, 0.022, 0.006, 0.030, 0.011, 0.001, 0.017, 0.024, 0.005, 0.038,
    0.009, 0.014, 0.002, 0.027, 0.007, 0.020, 0.012, 0.004, 0.055, 0.032,
    0.016, 0.048, 0.008, 0.023, 0.065, 0.003, 0.018, 0.011, 0.028, 0.006]
bonsai_other_inputs = [
    0.072, 0.211, 0.091, 0.085, 0.080, 0.100, 0.085, 0.435, 0.083, 0.386,
    0.473, 0.110, 0.530, 0.120, 0.232, 0.367, 0.395, 0.180, 0.709, 0.523,
    0.260, 0.480, 0.150, 0.081, 0.340, 0.678, 0.420, 0.620, 0.300, 0.560,
    0.450, 0.695, 0.380, 0.520, 0.250, 0.672, 0.470, 0.072, 0.590, 0.090,
    0.430, 0.330, 0.550, 0.270, 0.610, 0.400, 0.105, 0.500, 0.350, 0.460,
    0.280, 0.560, 0.410, 0.510, 0.220, 0.370, 0.620, 0.540, 0.432, 0.398,
    0.470, 0.640, 0.200, 0.300, 0.580, 0.160, 0.350, 0.440, 0.700, 0.510,
    0.200, 0.290, 0.330, 0.250, 0.380, 0.420, 0.300, 0.460, 0.350, 0.520,
    0.400, 0.470, 0.560, 0.440, 0.510, 0.360, 0.600, 0.480, 0.420, 0.530,
    0.650, 0.450, 0.580, 0.500, 0.390, 0.550, 0.470, 0.610, 0.680, 0.590,
    0.270, 0.340, 0.440, 0.570, 0.630, 0.490, 0.530, 0.410, 0.150, 0.110]
bonsai_value_added = [
    0.560, 0.513, 0.268, 0.463, 0.464, 0.448, 0.579, 0.361, 0.626, 0.498,
    0.739, 0.376, 0.197, 0.507, 0.353, 0.433, 0.408, 0.514, 0.057, 0.420,
    0.290, 0.540, 0.350, 0.460, 0.600, 0.280, 0.380, 0.130, 0.440, 0.520,
    0.330, 0.410, 0.215, 0.560, 0.360, 0.470, 0.300, 0.736, 0.400, 0.540,
    0.380, 0.620, 0.450, 0.340, 0.500, 0.420, 0.724, 0.643, 0.390, 0.470,
    0.550, 0.360, 0.430, 0.400, 0.490, 0.384, 0.314, 0.445, 0.350, 0.511,
    0.420, 0.480, 0.140, 0.250, 0.390, 0.530, 0.310, 0.440, 0.660, 0.400,
    0.450, 0.350, 0.400, 0.480, 0.300, 0.550, 0.420, 0.380, 0.510, 0.440,
    0.360, 0.470, 0.400, 0.580, 0.430, 0.330, 0.490, 0.410, 0.460, 0.370,
    0.530, 0.420, 0.390, 0.450, 0.500, 0.410, 0.440, 0.480, 0.250, 0.620,
    0.340, 0.520, 0.400, 0.460, 0.380, 0.570, 0.430, 0.490, 0.310, 0.540]

# ------------------------------------------------------------------ assembly
sections = [
    dict(title=section_titles[0], y=icio_multiplier,
         xs=[icio_basic_metals, icio_fabricated_metal, icio_mining, icio_non_metallic,
             icio_rubber_plastic, icio_wood, icio_other_inputs, icio_value_added],
         slope=icio_slope, intercept=icio_intercept, r2=icio_r2,
         yticks=icio_y_ticks, ylabels=icio_y_tick_labels, yrange=[-0.036, 0.812]),
    dict(title=section_titles[1], y=figaro_multiplier,
         xs=[figaro_basic_metals, figaro_fabricated_metal, figaro_mining, figaro_non_metallic,
             figaro_rubber_plastic, figaro_wood, figaro_other_inputs, figaro_value_added],
         slope=figaro_slope, intercept=figaro_intercept, r2=figaro_r2,
         yticks=figaro_y_ticks, ylabels=figaro_y_tick_labels, yrange=[-0.035, 1.182]),
    dict(title=section_titles[2], y=bonsai_multiplier,
         xs=[bonsai_basic_metals, bonsai_fabricated_metal, bonsai_mining, bonsai_non_metallic,
             bonsai_rubber_plastic, bonsai_wood, bonsai_other_inputs, bonsai_value_added],
         slope=bonsai_slope, intercept=bonsai_intercept, r2=bonsai_r2,
         yticks=bonsai_y_ticks, ylabels=bonsai_y_tick_labels, yrange=[0.076, 1.742]),
]

W, H = 1058, 1702
FONT = "DejaVu Sans"
TXT = "#1a1a1a"
AX = "#262626"
SEC_H = 568
COL_LEFT = [60.0, 316.5, 572.5, 828.5]
AX_W = 237.0
PX_PER_X = 293.5
X0 = -0.0367
ROW_TOP = [85.0, 331.0]
AX_H = 192.0
DY = 4  # plotly annotation vertical correction

fig = go.Figure()
layout = dict(width=W, height=H, margin=dict(l=0, r=0, t=0, b=0),
              paper_bgcolor="white", plot_bgcolor="white", showlegend=False)
annotations = []


def ann(text, xpx, ypx, size, angle=0):
    return dict(text=text, x=xpx / W, y=1 - ypx / H, xref="paper", yref="paper",
                xanchor="center", yanchor="middle", showarrow=False, textangle=angle,
                font=dict(family=FONT, size=size, color=TXT))


for s, sec in enumerate(sections):
    off = SEC_H * s
    annotations.append(ann(sec["title"], 605, 19 + off, 28))
    y = np.array(sec["y"], dtype=float)
    for p in range(8):
        k = s * 8 + p + 1
        r, c = divmod(p, 4)
        x = np.array(sec["xs"][p], dtype=float)
        a, b = sec["slope"][p], sec["intercept"][p]
        xr = "x" if k == 1 else f"x{k}"
        yr = "y" if k == 1 else f"y{k}"

        left = COL_LEFT[c]
        right = min(left + AX_W, W)
        top = off + ROW_TOP[r]
        bottom = top + AX_H

        layout["xaxis" if k == 1 else f"xaxis{k}"] = dict(
            domain=[left / W, right / W], anchor=yr,
            range=[X0, X0 + (right - left) / PX_PER_X],
            showgrid=False, zeroline=False, showline=True, linecolor=AX, linewidth=1,
            ticks="outside", ticklen=3.5, tickwidth=1, tickcolor=AX,
            tickvals=x_tick_values, ticktext=x_tick_labels,
            showticklabels=(r == 1), fixedrange=True,
            tickfont=dict(family=FONT, size=11.5, color=TXT))
        layout["yaxis" if k == 1 else f"yaxis{k}"] = dict(
            domain=[1 - bottom / H, 1 - top / H], anchor=xr,
            range=sec["yrange"],
            showgrid=False, zeroline=False, showline=True, linecolor=AX, linewidth=1,
            ticks="outside", ticklen=3.5, tickwidth=1, tickcolor=AX,
            tickvals=sec["yticks"], ticktext=sec["ylabels"],
            showticklabels=(c == 0), fixedrange=True,
            tickfont=dict(family=FONT, size=11.5, color=TXT))

        # scatter
        fig.add_trace(go.Scatter(x=x, y=y, mode="markers", xaxis=xr, yaxis=yr,
                                 marker=dict(size=5.5, color="rgba(31,119,180,0.42)",
                                             line=dict(width=0)),
                                 hoverinfo="skip"))
        # regression line + 95% confidence band
        n = len(x)
        xs = np.linspace(x.min(), x.max(), 80)
        fit = a * xs + b
        resid = y - (a * x + b)
        sres = np.sqrt(np.sum(resid ** 2) / (n - 2))
        xbar = x.mean()
        sxx = np.sum((x - xbar) ** 2)
        half = 1.96 * sres * np.sqrt(1.0 / n + (xs - xbar) ** 2 / sxx)
        fig.add_trace(go.Scatter(x=np.concatenate([xs, xs[::-1]]),
                                 y=np.concatenate([fit + half, (fit - half)[::-1]]),
                                 mode="lines", fill="toself", xaxis=xr, yaxis=yr,
                                 fillcolor="rgba(128,128,128,0.15)", line=dict(width=0),
                                 hoverinfo="skip"))
        fig.add_trace(go.Scatter(x=xs, y=fit, mode="lines", xaxis=xr, yaxis=yr,
                                 line=dict(color="#737373", width=2.6), hoverinfo="skip"))

        cx = left + 118.5
        lines = panel_titles[p]
        for i, t in enumerate(lines):
            ypos = top - 14 - DY - 16 * (len(lines) - 1 - i)
            annotations.append(ann(t, cx, ypos, 15))
        annotations.append(ann(f"y = {a:.2f} x + {b:.2f}", cx, top + 7 - DY, 12))
        annotations.append(ann(f"R<sup>2</sup>: {sec['r2'][p]:.2f}", cx, top + 26 - DY, 12))

        if c == 0:
            annotations.append(ann(y_label, 18, (top + bottom) / 2, 12, angle=-90))
        if r == 1:
            annotations.append(ann(x_label, cx, bottom + 30, 12.5))

layout["annotations"] = annotations
fig.update_layout(**layout)
fig.write_html("out.html")
